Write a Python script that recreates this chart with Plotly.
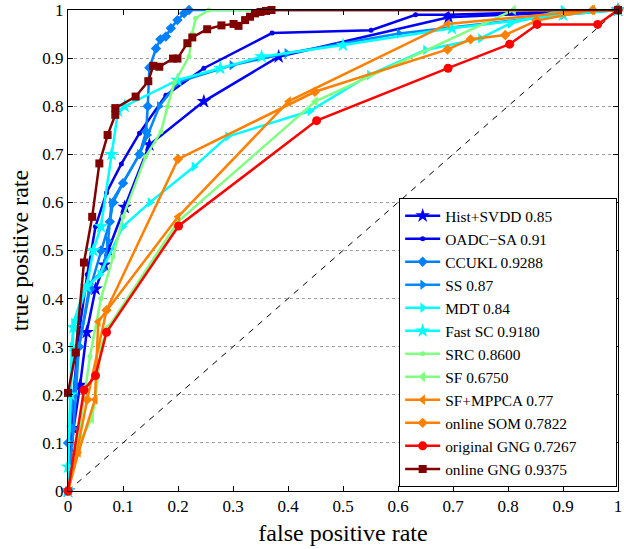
import plotly.graph_objects as go

# ---- data ----
names = ["Hist+SVDD 0.85", "OADC\u2212SA 0.91", "CCUKL 0.9288", "SS 0.87", "MDT 0.84",
         "Fast SC 0.9180", "SRC 0.8600", "SF 0.6750", "SF+MPPCA 0.77", "online SOM 0.7822",
         "original GNG 0.7267", "online GNG 0.9375"]

hist_svdd_fpr = [0, 0.01, 0.022, 0.034, 0.05, 0.066, 0.073, 0.103, 0.148, 0.247, 0.383, 0.692, 1]
hist_svdd_tpr = [0, 0.13, 0.22, 0.33, 0.42, 0.47, 0.50, 0.59, 0.72, 0.81, 0.903, 0.985, 1]

oadc_fpr = [0, 0.01, 0.02, 0.035, 0.05, 0.07, 0.097, 0.13, 0.178, 0.247, 0.371, 0.551, 0.632, 0.69, 1]
oadc_tpr = [0, 0.2, 0.33, 0.45, 0.55, 0.62, 0.68, 0.744, 0.823, 0.879, 0.952, 0.958, 0.99, 0.99, 1]

ccukl_fpr = [0, 0, 0.01, 0.02, 0.04, 0.06, 0.076, 0.082, 0.1, 0.13, 0.142, 0.145, 0.148, 0.16,
             0.168, 0.178, 0.187, 0.199, 0.211, 0.22, 1]
ccukl_tpr = [0, 0.1, 0.2, 0.3, 0.42, 0.5, 0.56, 0.6, 0.64, 0.70, 0.747, 0.80, 0.88, 0.92,
             0.939, 0.945, 0.962, 0.979, 0.993, 1.0, 1]

ss_fpr = [0, 0.01, 0.02, 0.04, 0.064, 0.073, 0.079, 0.13, 0.145, 0.166, 0.2, 0.298, 0.398, 0.602, 0.9, 1]
ss_tpr = [0, 0.13, 0.3, 0.43, 0.46, 0.52, 0.6, 0.70, 0.74, 0.80, 0.85, 0.885, 0.91, 0.951, 0.99, 1]

mdt_fpr = [0, 0, 0.007, 0.01, 0.03, 0.058, 0.1, 0.149, 0.229, 0.29, 0.44, 0.548, 0.65, 0.75, 0.804, 0.9, 1]
mdt_tpr = [0, 0.05, 0.3, 0.35, 0.42, 0.45, 0.55, 0.6, 0.674, 0.737, 0.79, 0.865, 0.917, 0.941, 0.972, 1.0, 1]

fastsc_fpr = [0, 0, 0.005, 0.01, 0.034, 0.046, 0.06, 0.079, 0.091, 0.103, 0.199, 0.277, 0.352, 0.5, 0.698, 0.9, 1]
fastsc_tpr = [0, 0.05, 0.2, 0.34, 0.425, 0.5, 0.55, 0.70, 0.79, 0.80, 0.854, 0.879, 0.903, 0.927, 0.962, 0.99, 1]

src_fpr = [0, 0.02, 0.04, 0.06, 0.082, 0.1, 0.141, 0.169, 0.181, 0.193, 0.22, 0.226, 0.232, 0.256, 1]
src_tpr = [0, 0.12, 0.28, 0.4, 0.487, 0.57, 0.695, 0.747, 0.799, 0.848, 0.903, 0.951, 0.983, 1.0, 1]

sf_fpr = [0, 0.016, 0.043, 0.05, 0.06, 0.073, 0.2, 0.45, 0.81, 1]
sf_tpr = [0, 0.09, 0.15, 0.19, 0.3, 0.34, 0.56, 0.81, 1.0, 1]

sfmppca_fpr = [0, 0.019, 0.049, 0.055, 0.2, 0.401, 0.69, 0.954, 1]
sfmppca_tpr = [0, 0.08, 0.19, 0.352, 0.57, 0.81, 0.971, 1.0, 1]

som_fpr = [0, 0.016, 0.035, 0.07, 0.2, 0.449, 0.69, 0.732, 0.795, 0.852, 0.954, 1]
som_tpr = [0, 0.08, 0.19, 0.376, 0.69, 0.83, 0.918, 0.939, 0.948, 0.978, 1.0, 1]

ogng_fpr = [0, 0.029, 0.05, 0.07, 0.201, 0.452, 0.691, 0.803, 0.853, 0.963, 1]
ogng_tpr = [0, 0.21, 0.24, 0.33, 0.551, 0.77, 0.879, 0.929, 0.97, 0.97, 1]

ongng_fpr = [0, 0.014, 0.029, 0.044, 0.057, 0.072, 0.086, 0.086, 0.123, 0.146, 0.155, 0.166, 0.191,
             0.199, 0.217, 0.226, 0.253, 0.279, 0.301, 0.31, 0.322, 0.331, 0.34, 0.35, 0.36, 0.37, 1.0]
ongng_tpr = [0.204, 0.288, 0.475, 0.57, 0.681, 0.74, 0.782, 0.796, 0.82, 0.852, 0.884, 0.882, 0.899,
             0.899, 0.931, 0.943, 0.96, 0.968, 0.971, 0.967, 0.979, 0.986, 0.993, 0.996, 0.998, 1.0, 1.0]

diag_xy = [0, 1]

tick_vals = [0, 0.1, 0.2, 0.3, 0.4, 0.5, 0.6, 0.7, 0.8, 0.9, 1]
tick_text = ["0", "0.1", "0.2", "0.3", "0.4", "0.5", "0.6", "0.7", "0.8", "0.9", "1"]

series = [
    (hist_svdd_fpr, hist_svdd_tpr, "#0000FF", "star", 11),
    (oadc_fpr, oadc_tpr, "#0000EE", "circle", 5),
    (ccukl_fpr, ccukl_tpr, "#0080FF", "diamond", 8),
    (ss_fpr, ss_tpr, "#0088FF", "triangle-right", 9),
    (mdt_fpr, mdt_tpr, "#00FFFF", "triangle-right", 9),
    (fastsc_fpr, fastsc_tpr, "#00FFFF", "star", 11),
    (src_fpr, src_tpr, "#80FF80", "circle", 5),
    (sf_fpr, sf_tpr, "#80FF80", "triangle-left", 9),
    (sfmppca_fpr, sfmppca_tpr, "#FF8000", "triangle-left", 9),
    (som_fpr, som_tpr, "#FF8000", "diamond", 8),
    (ogng_fpr, ogng_tpr, "#FF0000", "circle", 9),
    (ongng_fpr, ongng_tpr, "#800000", "square", 8),
]

fig = go.Figure()
fig.add_trace(go.Scatter(x=diag_xy, y=diag_xy, mode="lines", showlegend=False,
                         line=dict(color="black", width=1, dash="6px,6px"), hoverinfo="skip"))

pad = "\u00a0" * 9  # widen legend box to match the reference
for name, (xs, ys, col, sym, sz) in zip(names, series):
    label = name + pad if name.startswith("original") else name
    fig.add_trace(go.Scatter(x=xs, y=ys, name=label, mode="lines+markers",
                             line=dict(color=col, width=2.5),
                             marker=dict(color=col, symbol=sym, size=sz, line=dict(width=0)),
                             cliponaxis=False))

serif = "Liberation Serif"
fig.update_layout(
    width=624, height=549,
    margin=dict(l=68, r=6, t=10, b=58, autoexpand=False),
    paper_bgcolor="white", plot_bgcolor="white",
    font=dict(family=serif, size=17, color="black"),
    showlegend=True,
    legend=dict(x=0.9985, y=0.008, xanchor="right", yanchor="bottom",
                bordercolor="black", borderwidth=1, bgcolor="white",
                font=dict(family=serif, size=15.4), tracegroupgap=0,
                itemwidth=35),
    xaxis=dict(range=[0, 1], tickvals=tick_vals, ticktext=tick_text,
               showgrid=False, zeroline=False, showline=True, linecolor="black", linewidth=1,
               mirror="ticks", ticks="inside", ticklen=5, tickcolor="black",
               ticklabeloverflow="allow",
               title=dict(text="false positive rate", font=dict(family=serif, size=24), standoff=8)),
    yaxis=dict(range=[0, 1], tickvals=tick_vals, ticktext=tick_text,
               showgrid=True, gridcolor="#a0a0a0", griddash="dot", gridwidth=1,
               zeroline=False, showline=True, linecolor="black", linewidth=1,
               mirror="ticks", ticks="inside", ticklen=5, tickcolor="black",
               ticklabeloverflow="allow",
               title=dict(text="true positive rate", font=dict(family=serif, size=24), standoff=6)),
)

fig.write_html("out.html", config={"displayModeBar": False, "responsive": False},
               post_script="document.body.style.margin='0';document.body.style.padding='0';")
